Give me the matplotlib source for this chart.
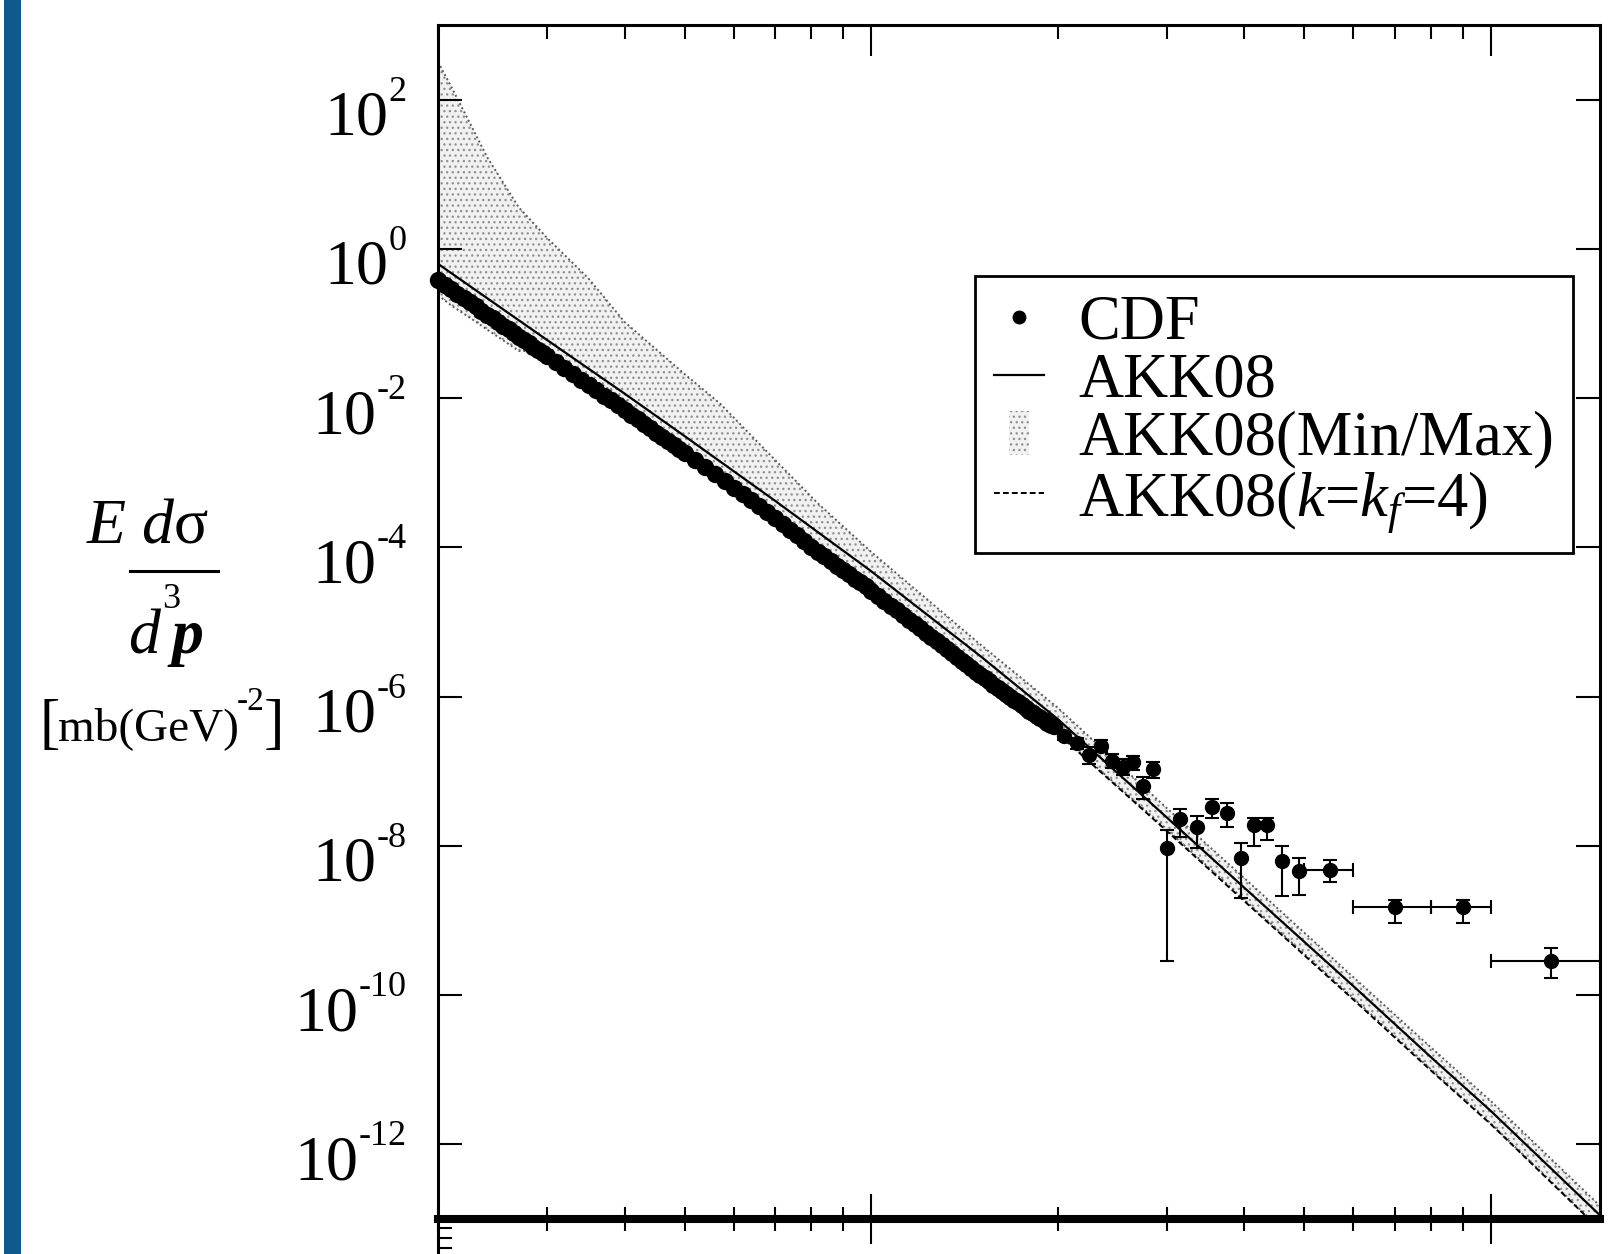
import matplotlib
matplotlib.use("Agg")
import numpy as np
import matplotlib.pyplot as plt
import matplotlib.patches as mpatches
import matplotlib.transforms as mtransforms
from matplotlib.lines import Line2D
from matplotlib.legend_handler import HandlerPatch
from matplotlib.ticker import FixedLocator, LogLocator, NullFormatter, NullLocator

plt.rcParams['font.family'] = ['Liberation Serif', 'DejaVu Serif']
plt.rcParams['mathtext.fontset'] = 'custom'
plt.rcParams['mathtext.rm'] = 'Liberation Serif'
plt.rcParams['mathtext.it'] = 'Liberation Serif:italic'
plt.rcParams['mathtext.bf'] = 'Liberation Serif:bold'
plt.rcParams['hatch.linewidth'] = 0.9

# ---- CDF charged-hadron spectrum, dense low-pT part (pT in GeV, E d3sigma/dp3 in mb/GeV^2)
pt_dense = [2.00, 2.05, 2.10, 2.15, 2.20, 2.25, 2.30, 2.35, 2.40, 2.45,
            2.50, 2.55, 2.60, 2.65, 2.70, 2.75, 2.80, 2.85, 2.90, 2.95,
            3.0, 3.1, 3.2, 3.3, 3.4, 3.5, 3.6, 3.7, 3.8, 3.9,
            4.0, 4.1, 4.2, 4.3, 4.4, 4.5, 4.6, 4.7, 4.8, 4.9, 5.0,
            5.2, 5.4, 5.6, 5.8, 6.0, 6.2, 6.4, 6.6, 6.8, 7.0,
            7.2, 7.4, 7.6, 7.8, 8.0, 8.2, 8.4, 8.6, 8.8, 9.0,
            9.2, 9.4, 9.6, 9.8, 10.0,
            10.25, 10.5, 10.75, 11.0, 11.25, 11.5, 11.75, 12.0, 12.25, 12.5,
            12.75, 13.0, 13.25, 13.5, 13.75, 14.0, 14.25, 14.5, 14.75, 15.0,
            15.25, 15.5, 15.75, 16.0, 16.25, 16.5, 16.75, 17.0, 17.25, 17.5,
            17.75, 18.0, 18.25, 18.5, 18.75, 19.0, 19.25, 19.5, 19.75]
y_dense = [3.80e-1, 3.30e-1, 2.86e-1, 2.50e-1, 2.19e-1, 1.92e-1, 1.69e-1, 1.49e-1, 1.32e-1, 1.17e-1,
           1.04e-1, 9.31e-2, 8.32e-2, 7.45e-2, 6.68e-2, 6.01e-2, 5.41e-2, 4.89e-2, 4.42e-2, 4.00e-2,
           3.63e-2, 3.01e-2, 2.51e-2, 2.10e-2, 1.77e-2, 1.49e-2, 1.27e-2, 1.08e-2, 9.31e-3, 8.02e-3,
           6.92e-3, 5.98e-3, 5.19e-3, 4.52e-3, 3.95e-3, 3.46e-3, 3.04e-3, 2.68e-3, 2.37e-3, 2.10e-3, 1.86e-3,
           1.47e-3, 1.18e-3, 9.5e-4, 7.7e-4, 6.3e-4, 5.2e-4, 4.28e-4, 3.56e-4, 2.98e-4, 2.51e-4,
           2.06e-4, 1.72e-4, 1.45e-4, 1.21e-4, 1.02e-4, 8.8e-5, 7.6e-5, 6.6e-5, 5.7e-5, 5.0e-5,
           4.4e-5, 3.8e-5, 3.4e-5, 3.0e-5, 2.63e-5,
           2.24e-5, 1.92e-5, 1.65e-5, 1.43e-5, 1.24e-5, 1.07e-5, 9.3e-6, 8.2e-6, 7.1e-6, 6.3e-6,
           5.5e-6, 4.9e-6, 4.3e-6, 3.8e-6, 3.4e-6, 3.03e-6, 2.7e-6, 2.42e-6, 2.17e-6, 1.95e-6,
           1.78e-6, 1.60e-6, 1.45e-6, 1.31e-6, 1.20e-6, 1.09e-6, 1.0e-6, 9.1e-7, 8.4e-7, 7.7e-7,
           7.0e-7, 6.5e-7, 6.0e-7, 5.5e-7, 5.1e-7, 4.8e-7, 4.5e-7, 4.2e-7, 4.0e-7]

# ---- CDF points at higher pT with visible vertical error bars
pt_err = [20.5, 21.5, 22.5, 23.5, 24.5, 25.5, 26.5, 27.5, 28.5,
          30.0, 31.5, 33.5, 35.5, 37.5, 39.5, 41.5, 43.5, 46.0, 49.0]
y_err = [3.0e-7, 2.4e-7, 1.66e-7, 2.2e-7, 1.38e-7, 1.15e-7, 1.32e-7, 6.3e-8, 1.07e-7,
         9.5e-9, 2.3e-8, 1.8e-8, 3.3e-8, 2.8e-8, 6.9e-9, 1.9e-8, 1.9e-8, 6.3e-9, 4.6e-9]
y_err_low = [2.6e-7, 2.0e-7, 1.25e-7, 1.8e-7, 1.1e-7, 9.0e-8, 1.05e-7, 4.3e-8, 8.0e-8,
             2.9e-10, 1.3e-8, 9.5e-9, 2.4e-8, 1.8e-8, 2.0e-9, 1.0e-8, 1.2e-8, 2.1e-9, 2.2e-9]
y_err_high = [3.4e-7, 2.8e-7, 2.1e-7, 2.6e-7, 1.7e-7, 1.45e-7, 1.6e-7, 8.5e-8, 1.35e-7,
              1.65e-8, 3.1e-8, 2.5e-8, 4.3e-8, 3.8e-8, 1.1e-8, 2.4e-8, 2.4e-8, 1.0e-8, 6.9e-9]

# ---- CDF wide bins at the highest pT (horizontal bars = bin edges)
pt_wide = [55.0, 70.0, 90.0, 125.0]
pt_wide_lo = [50.0, 60.0, 80.0, 100.0]
pt_wide_hi = [60.0, 80.0, 100.0, 150.0]
y_wide = [4.8e-9, 1.5e-9, 1.5e-9, 2.9e-10]
y_wide_low = [3.3e-9, 9.3e-10, 9.3e-10, 1.7e-10]
y_wide_high = [6.5e-9, 1.9e-9, 1.9e-9, 4.3e-10]

# ---- AKK08 central prediction
pt_akk = [2.0, 3.0, 4.0, 5.0, 7.0, 10.0, 15.0, 20.0, 30.0, 40.0, 60.0, 80.0, 100.0, 150.0]
y_akk = [6.3e-1, 6.0e-2, 1.15e-2, 3.1e-3, 4.2e-4, 4.8e-5, 3.5e-6, 5.0e-7,
         2.4e-8, 2.75e-9, 1.32e-10, 1.48e-11, 2.8e-12, 1.12e-13]

# ---- AKK08 with k = k_f = 4
pt_k4 = [2.0, 3.0, 5.0, 7.0, 10.0, 15.0, 20.0, 30.0, 40.0, 60.0, 80.0, 100.0, 150.0]
y_k4 = [3.8e-1, 3.6e-2, 1.82e-3, 2.4e-4, 2.6e-5, 2.1e-6, 3.2e-7,
        1.58e-8, 1.82e-9, 8.7e-11, 9.8e-12, 1.86e-12, 7.2e-14]

# ---- AKK08 min/max envelope
pt_band = [2.0, 2.1, 2.25, 2.4, 2.7, 3.0, 3.5, 4.0, 5.0, 5.7, 7.0, 8.2,
           10.0, 15.0, 20.0, 30.0, 40.0, 60.0, 80.0, 100.0, 150.0]
y_band_high = [3.2e2, 1.5e2, 4.9e1, 1.7e1, 3.6e0, 1.4e0, 4.0e-1, 1.05e-1, 2.1e-2, 8.5e-3,
               1.48e-3, 3.9e-4, 8.7e-5, 5.0e-6, 7.1e-7, 3.2e-8, 3.7e-9, 1.74e-10,
               2.0e-11, 3.8e-12, 1.5e-13]
y_band_low = [2.4e-1, 1.75e-1, 1.2e-1, 8.3e-2, 4.3e-2, 4.2e-2, 2.0e-2, 9.5e-3, 2.2e-3, 1.05e-3,
              2.6e-4, 8.0e-5, 2.8e-5, 2.2e-6, 3.3e-7, 1.66e-8, 1.9e-9, 9.1e-11,
              1.02e-11, 1.9e-12, 7.4e-14]

legend_labels = ['CDF', 'AKK08', 'AKK08(Min/Max)', r'AKK08($k$=$k_f$=4)']
ytick_exponents = [2, 0, -2, -4, -6, -8, -10, -12]

W, H = 1613, 1254
fig = plt.figure(figsize=(W / 100, H / 100), dpi=100)
fig.patch.set_facecolor('white')
ax = fig.add_axes([438 / W, 1 - 1219 / H, 1162 / W, 1194 / H])
ax.set_xscale('log')
ax.set_yscale('log')
ax.set_xlim(2, 150)
ax.set_ylim(1e-13, 1e3)

# theory envelope
band_face = '#f1f1f1'
band_dots = '#8e8e8e'
ax.fill_between(pt_band, y_band_low, y_band_high, facecolor=band_face,
                edgecolor=band_dots, hatch='...', linewidth=0, zorder=1)
for edge in (y_band_high, y_band_low):
    ax.plot(pt_band, edge, ls=(0, (1, 1.4)), color='#5a5a5a', lw=1.4, zorder=1.5)

# theory curves
ax.plot(pt_akk, y_akk, color='black', lw=1.6, zorder=2)
ax.plot(pt_k4, y_k4, color='black', lw=1.4, ls=(0, (3, 1.6)), zorder=2)

# data
ax.plot(pt_dense, y_dense, 'o', color='black', ms=11.5, zorder=3, clip_on=False)
ye = np.array(y_err)
ax.errorbar(pt_err, ye, yerr=[ye - np.array(y_err_low), np.array(y_err_high) - ye],
            fmt='o', color='black', ms=10, elinewidth=1.5, capsize=5, capthick=1.5, zorder=3)
xw = np.array(pt_wide)
yw = np.array(y_wide)
ax.errorbar(xw, yw, xerr=[xw - np.array(pt_wide_lo), np.array(pt_wide_hi) - xw],
            yerr=[yw - np.array(y_wide_low), np.array(y_wide_high) - yw],
            fmt='o', color='black', ms=10, elinewidth=1.5, capsize=5, capthick=1.5,
            zorder=3, clip_on=False)

# frame
for side in ('left', 'top', 'right'):
    ax.spines[side].set_linewidth(2.2)
ax.spines['bottom'].set_linewidth(5.8)

# x ticks (bottom: crossing the axis line)
ax.xaxis.set_major_locator(LogLocator(base=10))
ax.xaxis.set_minor_locator(LogLocator(base=10, subs=np.arange(2, 10)))
ax.xaxis.set_major_formatter(NullFormatter())
ax.xaxis.set_minor_formatter(NullFormatter())
ax.tick_params(axis='x', which='major', direction='inout', length=36, width=1.5,
               bottom=True, top=False, labelbottom=False)
ax.tick_params(axis='x', which='minor', direction='inout', length=17, width=1.5,
               bottom=True, top=False)

# y ticks every two decades, both sides
ax.yaxis.set_major_locator(FixedLocator([10.0 ** e for e in ytick_exponents]))
ax.yaxis.set_minor_locator(NullLocator())
ax.yaxis.set_major_formatter(NullFormatter())
ax.tick_params(axis='y', which='major', direction='in', length=17, width=1.5,
               left=True, right=True, labelleft=False)

# top ticks pointing inward
ax_top = ax.twiny()
ax_top.set_xscale('log')
ax_top.set_xlim(2, 150)
ax_top.xaxis.set_major_locator(LogLocator(base=10))
ax_top.xaxis.set_minor_locator(LogLocator(base=10, subs=np.arange(2, 10)))
ax_top.xaxis.set_major_formatter(NullFormatter())
ax_top.xaxis.set_minor_formatter(NullFormatter())
ax_top.tick_params(axis='x', which='major', direction='in', length=22, width=1.5,
                   top=True, bottom=False, labeltop=False)
ax_top.tick_params(axis='x', which='minor', direction='in', length=10, width=1.5,
                   top=True, bottom=False)
for s in ax_top.spines.values():
    s.set_visible(False)

# y tick labels: "10" with a raised exponent
renderer = fig.canvas.get_renderer()
blend = mtransforms.blended_transform_factory(ax.transAxes, ax.transData)
x_lab = (407 - 438) / 1162
for e in ytick_exponents:
    sup = ax.text(x_lab, 10.0 ** e, str(e), fontsize=26, ha='right', va='baseline',
                  transform=mtransforms.offset_copy(blend, fig=fig, x=0, y=-1, units='dots'))
    wpx = sup.get_window_extent(renderer).width
    ax.text(x_lab, 10.0 ** e, '10', fontsize=46, ha='right', va='baseline',
            transform=mtransforms.offset_copy(blend, fig=fig, x=-(wpx + 1), y=-35, units='dots'))


def fx(px):
    return px / W


def fy(py):
    return 1 - py / H


# y-axis title
fig.text(fx(86), fy(542), r'$E\ d$σ', fontsize=46, ha='left', va='baseline')
fig.add_artist(Line2D([fx(130), fx(218)], [fy(571), fy(571)], color='black', lw=2.2))
fig.text(fx(128), fy(653), 'd', fontsize=46, style='italic', ha='left', va='baseline')
fig.text(fx(162), fy(608), '3', fontsize=26, ha='left', va='baseline')
fig.text(fx(172), fy(653), 'p', fontsize=46, style='italic', weight='bold', ha='left', va='baseline')
fig.text(fx(40), fy(742), '[', fontsize=44, ha='left', va='baseline')
fig.text(fx(58), fy(740), 'mb(GeV)', fontsize=34, ha='left', va='baseline')
fig.text(fx(237), fy(710), '-2', fontsize=24, ha='left', va='baseline')
fig.text(fx(264), fy(742), ']', fontsize=44, ha='left', va='baseline')

# legend
h_cdf = Line2D([], [], marker='o', ls='none', color='black', markersize=9)
h_akk = Line2D([], [], color='black', lw=1.6)
h_band = mpatches.Patch(facecolor=band_face, edgecolor=band_dots, hatch='...', linewidth=0)
h_k4 = Line2D([], [], color='black', lw=1.4, ls=(0, (3, 1.6)))


def small_square(legend, orig_handle, xdescent, ydescent, width, height, fontsize):
    return mpatches.Rectangle((-xdescent + 0.3 * width, -ydescent), 0.4 * width, height)


leg = ax.legend([h_cdf, h_akk, h_band, h_k4], legend_labels, loc='upper left',
                bbox_to_anchor=((975 - 438) / 1162, 1 - (276 - 25) / 1194), borderaxespad=0,
                fontsize=45, frameon=True, fancybox=False, edgecolor='black', framealpha=1,
                handlelength=0.8, handletextpad=0.55, borderpad=0.3, labelspacing=0.0,
                handler_map={h_band: HandlerPatch(patch_func=small_square)})
leg.get_frame().set_linewidth(2.0)
leg.set_zorder(5)

# edge of the panel below
fig.add_artist(Line2D([fx(438), fx(438)], [fy(1219), fy(1254)], color='black', lw=2.2))
for yy in (1228, 1238, 1248):
    fig.add_artist(Line2D([fx(438), fx(451)], [fy(yy), fy(yy)], color='black', lw=1.5))

# blue margin strip
fig.add_artist(mpatches.Rectangle((fx(4), 0), 17 / W, 1, transform=fig.transFigure,
                                  facecolor='#0f5a8c', edgecolor='none'))

fig.savefig('out.png', dpi=100)
